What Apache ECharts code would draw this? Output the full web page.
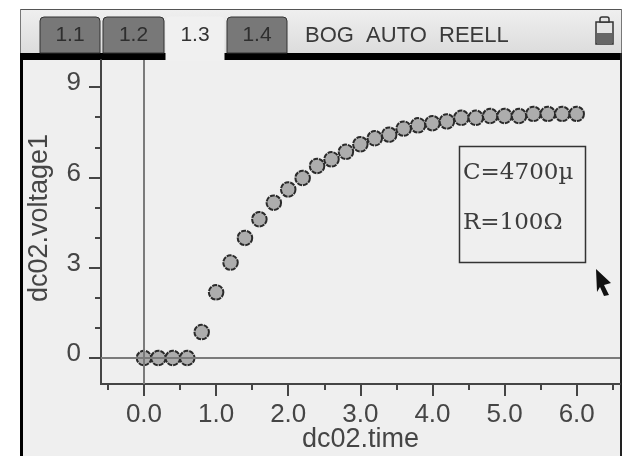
<!DOCTYPE html>
<html><head><meta charset="utf-8">
<style>html,body{margin:0;padding:0;background:#fff}#c{width:623px;height:456px}</style>
<script src="https://cdn.jsdelivr.net/npm/echarts@6/dist/echarts.min.js"></script>
</head><body><div id="c"></div>
<script>
const timeValues = [0,0.2,0.4,0.6,0.8,1.0,1.2,1.4,1.6,1.8,2.0,2.2,2.4,2.6,2.8,3.0,3.2,3.4,3.6,3.8,4.0,4.2,4.4,4.6,4.8,5.0,5.2,5.4,5.6,5.8,6.0];
const voltageValues = [0,0,0,0,0.86,2.18,3.17,3.99,4.61,5.16,5.60,5.98,6.38,6.60,6.85,7.10,7.30,7.42,7.62,7.73,7.80,7.86,7.98,7.98,8.04,8.04,8.04,8.11,8.11,8.11,8.11];
const xMajorTicks = [0,1,2,3,4,5,6];
const xMinorTicks = [-0.5,0.5,1.5,2.5,3.5,4.5,5.5,6.5];
const yMajorTicks = [0,3,6,9];
const yMinorTicks = [1,2,4,5,7,8];
const tabNames = ['1.1','1.2','1.3','1.4'];
const statusText = 'BOG  AUTO  REELL';
const noteLines = ['C=4700µ','R=100Ω'];
const xTitle = 'dc02.time', yTitle = 'dc02.voltage1';

const SANS = '"Liberation Sans", Arial, sans-serif';
const INK = '#454545';
const rect = (x,y,w,h,fill,z=-5) => ({type:'rect',z,silent:true,shape:{x,y,width:w,height:h},style:{fill}});
const label = (x,y,text,size,fill,font=SANS,align='center',z=-3) => ({type:'text',z,silent:true,x,y,style:{text,fill,font:`${size}px ${font}`,align,verticalAlign:'middle'}});

const tabBoxes = [[40,60],[103,61],[166,58],[227,60]];
const tabs = [];
tabBoxes.forEach(([x,w],i)=>{
  const active = i===2;
  tabs.push({type:'rect',z:-4,silent:true,shape:{x,y:17,width:w,height:active?44:36,r:[4,4,0,0]},
    style:{fill:active?'#f0f0f0':'#787878',stroke:active?'#f0f0f0':'#333',lineWidth:1}});
  tabs.push(label(x+w/2,35,tabNames[i],21,active?'#333':'#2e2e2e'));
});

const graphics = [
  rect(20,9,602,447,'#efefef',-6),
  {type:'rect',z:-5,silent:true,shape:{x:21,y:10,width:600,height:43},
    style:{fill:new echarts.graphic.LinearGradient(0,0,0,1,[{offset:0,color:'#efefef'},{offset:1,color:'#dcdcdc'}])}},
  rect(20,9,602,1,'#555'),
  rect(20,9,1,45,'#777'),
  rect(621,9,1,45,'#777'),
  rect(20,53,146,7,'#000'),
  rect(224,53,398,7,'#000'),
  rect(20,53,3,403,'#000'),
  rect(620,53,2,403,'#222'),
  ...tabs,
  label(305,36,statusText,22,'#3a3a3a',SANS,'left'),
  {type:'rect',z:-3,silent:true,shape:{x:596,y:22,width:17,height:22},style:{fill:'#e4e4e4',stroke:'#333',lineWidth:1.5}},
  {type:'rect',z:-3,silent:true,shape:{x:600,y:17,width:9,height:5,r:[2,2,0,0]},style:{fill:'#e4e4e4',stroke:'#333',lineWidth:1.5}},
  rect(597,33,15,11,'#666',-2),
  {type:'rect',z:5,silent:true,shape:{x:459.5,y:146.5,width:126,height:116},style:{fill:'#efefef',stroke:'#333',lineWidth:1.5}},
  label(463,173,noteLines[0],23,'#3c3c3c','"DejaVu Serif", serif','left',6),
  label(463,223,noteLines[1],23,'#3c3c3c','"DejaVu Serif", serif','left',6),
  {type:'polygon',z:6,silent:true,shape:{points:[[596,269],[611,283],[604,285],[609,295],[604,296],[600,287],[597,292]]},style:{fill:'#111'}},
];

const xBase = {type:'value',position:'bottom',min:-0.596,max:6.6,splitLine:{show:false},minorTick:{show:false},
  axisLine:{show:true,onZero:false,lineStyle:{color:INK,width:2}}};
const yBase = {type:'value',position:'left',min:-0.864,max:9.9,splitLine:{show:false},minorTick:{show:false},
  axisLine:{show:true,onZero:false,lineStyle:{color:INK,width:2}}};

const chart = echarts.init(document.getElementById('c'),null,{renderer:'canvas'});
chart.setOption({
  animation:false,
  backgroundColor:'#fff',
  graphic:{elements:graphics},
  grid:{left:101,right:3,top:60,bottom:72,containLabel:false,outerBoundsMode:'none'},
  textStyle:{fontFamily:SANS},
  xAxis:[
    {...xBase,name:xTitle,nameLocation:'middle',nameGap:42,nameMoveOverlap:false,nameTextStyle:{color:INK,fontSize:27,fontFamily:SANS},
      axisTick:{show:true,length:12,customValues:xMajorTicks,lineStyle:{color:INK,width:2}},
      axisLabel:{show:true,customValues:xMajorTicks,formatter:v=>v.toFixed(1),color:INK,fontSize:26,fontFamily:SANS,margin:18,hideOverlap:false,showMinLabel:true,showMaxLabel:true}},
    {...xBase,axisLabel:{show:false},axisTick:{show:true,length:6,customValues:xMinorTicks,lineStyle:{color:INK,width:2}}}
  ],
  yAxis:[
    {...yBase,name:yTitle,nameLocation:'middle',nameGap:48,nameTextStyle:{color:INK,fontSize:27,fontFamily:SANS,padding:[0,0,0,8]},
      axisTick:{show:true,length:12,customValues:yMajorTicks,lineStyle:{color:INK,width:2}},
      axisLabel:{show:true,customValues:yMajorTicks,color:INK,fontSize:26,fontFamily:SANS,margin:20,verticalAlign:'bottom',lineHeight:8}},
    {...yBase,axisLabel:{show:false},axisTick:{show:true,length:6,customValues:yMinorTicks,lineStyle:{color:INK,width:2}}}
  ],
  series:[{
    type:'scatter',xAxisIndex:0,yAxisIndex:0,
    data:timeValues.map((t,i)=>[t,voltageValues[i]]),
    symbol:'circle',symbolSize:14.5,
    itemStyle:{color:'#adadad',opacity:1,borderColor:'#2a2a2a',borderWidth:2,borderType:[5,1]},
    markLine:{silent:true,symbol:'none',label:{show:false},animation:false,
      lineStyle:{color:'#7b7b7b',width:2,type:'solid'},
      data:[{xAxis:0},{yAxis:0}]}
  }]
});
</script></body></html>
